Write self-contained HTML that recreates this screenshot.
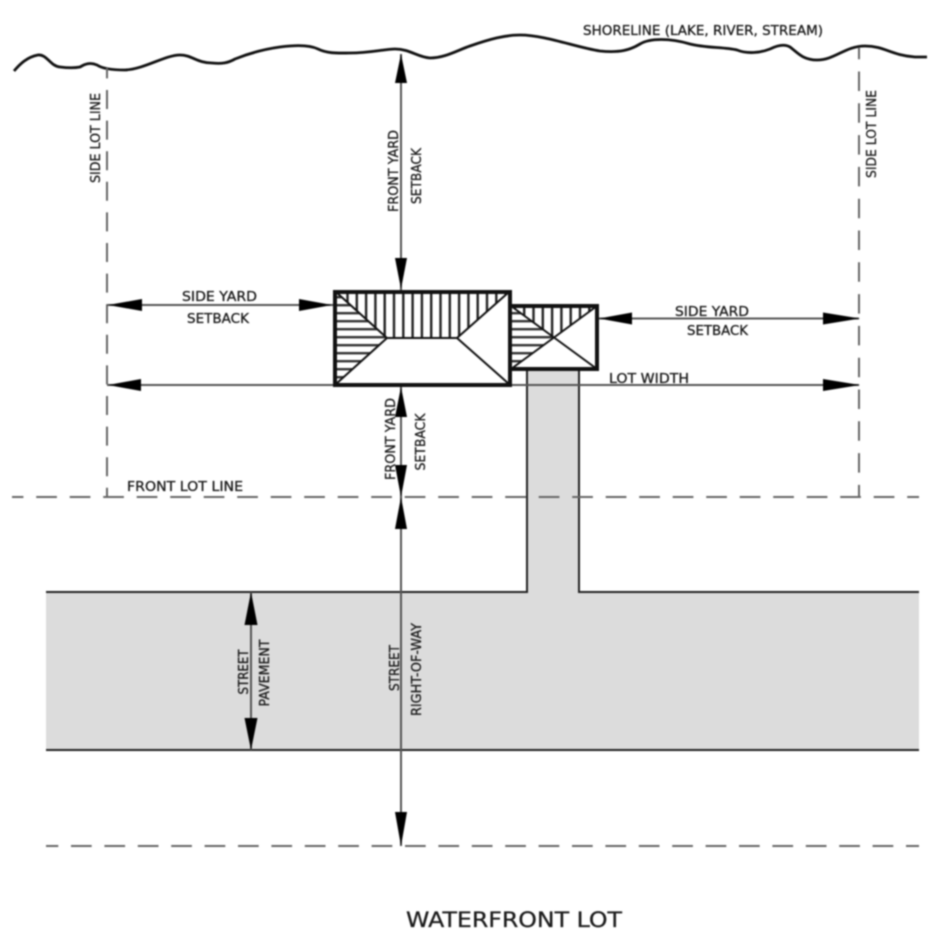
<!DOCTYPE html>
<html>
<head>
<meta charset="utf-8">
<style>
html,body{margin:0;padding:0;background:#fff;width:938px;height:936px;overflow:hidden}
svg{display:block;filter:blur(.7px)}
text{font-family:"DejaVu Sans",sans-serif;font-size:13px;fill:#1c1c1c;stroke:#1c1c1c;stroke-width:.3px;text-anchor:middle}
</style>
</head>
<body>
<svg width="938" height="936" viewBox="0 0 938 936" xmlns="http://www.w3.org/2000/svg">
<defs>
<pattern id="v" width="9.3" height="9" patternUnits="userSpaceOnUse" x="337"><rect x="0" width="2.4" height="9" fill="#222"/></pattern>
<pattern id="h" width="9" height="8" patternUnits="userSpaceOnUse" y="296"><rect y="0" width="9" height="2.4" fill="#333"/></pattern>
</defs>

<!-- paved areas -->
<rect x="46" y="592" width="873" height="158" fill="#dcdcdc"/>
<rect x="527" y="370" width="52" height="224" fill="#dcdcdc"/>
<g stroke="#222" stroke-width="2" fill="none">
<path d="M46 592H527V370M579 370V592H919"/>
<path d="M46 750H919"/>
</g>

<!-- shoreline -->
<path d="M14 71C20 64 27 57 38 55C47 54 50 66 60 67C68 68 75 68 80 67C85 64 90 62 97 65C103 69 115 70 125 70C145 69 165 55 180 55C192 55 197 63 212 63C222 64 228 63 235 59C250 53 265 49 280 47C295 45 310 45 318 49C328 54 340 53 350 53C370 53 385 49 395 49C410 49 417 57 430 58C445 58 458 50 470 46C490 39 505 35 520 35C545 35 575 47 600 51C620 53 630 50 640 44C650 38 670 38 690 44C705 48 725 47 737 50C747 54 760 53 770 49C778 45 785 44 790 47C798 53 803 60 817 60C835 60 845 46 865 46C885 46 890 55 915 57L927 57" fill="none" stroke="#111" stroke-width="2.8"/>

<!-- dashed lot lines -->
<g stroke="#666" stroke-width="2" fill="none">
<path d="M107 68V497" stroke-dasharray="19 11.6" stroke-dashoffset="8.6"/>
<path d="M859 48V497" stroke-dasharray="19.5 12.3" stroke-dashoffset="8.3"/>
<path d="M12 497H919" stroke-dasharray="20.7 12.8" stroke-dashoffset="9.3"/>
<path d="M46 846H919" stroke-dasharray="20.7 12.7" stroke-dashoffset="8.4"/>
</g>

<!-- dimension lines -->
<g stroke="#555" stroke-width="2" fill="none">
<path d="M401 54V290"/>
<path d="M401 386V497"/>
<path d="M401 497V846"/>
<path d="M251 592V750"/>
<path d="M107 305H334"/>
<path d="M597 318.500H859"/>
<path d="M107 385H859"/>
</g>

<!-- arrowheads -->
<g fill="#000">
<path d="M401 54L395 83H407Z"/>
<path d="M401 289L395 258H407Z"/>
<path d="M401 387L395 417H407Z"/>
<path d="M401 497L395 465H407Z"/>
<path d="M401 497L395 529H407Z"/>
<path d="M401 846L395 812H407Z"/>
<path d="M251 592L244.500 625H257.500Z"/>
<path d="M251 750L244.500 718H257.500Z"/>
<path d="M108 305L142 299V311Z"/>
<path d="M332 305L299 299V311Z"/>
<path d="M599 318.500L632 312.500V324.500Z"/>
<path d="M860 318.500L823 312.500V324.500Z"/>
<path d="M108 385L141 379V391Z"/>
<path d="M860 385L823 379V391Z"/>
</g>

<!-- main roof -->
<rect x="335" y="292" width="175" height="93" fill="#fff"/>
<path d="M337 293H508L457 338H387Z" fill="url(#v)"/>
<path d="M337 293L387 338L337 383Z" fill="url(#h)"/>
<!-- small roof -->
<rect x="511" y="306" width="86" height="63" fill="#fff"/>
<path d="M511 306H597L554 338Z" fill="url(#v)"/>
<path d="M511 306L554 338L511 369Z" fill="url(#h)"/>
<g stroke="#111" stroke-width="2" fill="none">
<path d="M336 292L387 338H457L509 292M387 338L336 384M457 338L509 384"/>
<path d="M511 306L597 369M597 306L511 369"/>
</g>
<rect x="335" y="292" width="175" height="93" fill="none" stroke="#111" stroke-width="4"/>
<path d="M511 306H597V369H511" fill="none" stroke="#111" stroke-width="4"/>

<!-- labels -->
<text x="703" y="35" textLength="240" lengthAdjust="spacingAndGlyphs">SHORELINE (LAKE, RIVER, STREAM)</text>
<text transform="translate(100 138) rotate(-90)" textLength="90" lengthAdjust="spacingAndGlyphs">SIDE LOT LINE</text>
<text transform="translate(876 134) rotate(-90)" textLength="88" lengthAdjust="spacingAndGlyphs">SIDE LOT LINE</text>
<text transform="translate(398 171) rotate(-90)" textLength="82" lengthAdjust="spacingAndGlyphs">FRONT YARD</text>
<text transform="translate(421 176) rotate(-90)" textLength="56" lengthAdjust="spacingAndGlyphs">SETBACK</text>
<text x="219.500" y="301" textLength="75" lengthAdjust="spacingAndGlyphs">SIDE YARD</text>
<text x="218" y="323" textLength="62" lengthAdjust="spacingAndGlyphs">SETBACK</text>
<text x="712" y="316" textLength="74" lengthAdjust="spacingAndGlyphs">SIDE YARD</text>
<text x="717.500" y="335" textLength="61" lengthAdjust="spacingAndGlyphs">SETBACK</text>
<text x="649" y="383" textLength="80" lengthAdjust="spacingAndGlyphs">LOT WIDTH</text>
<text transform="translate(395 439) rotate(-90)" textLength="82" lengthAdjust="spacingAndGlyphs">FRONT YARD</text>
<text transform="translate(425 442) rotate(-90)" textLength="57" lengthAdjust="spacingAndGlyphs">SETBACK</text>
<text x="185" y="491" textLength="116" lengthAdjust="spacingAndGlyphs">FRONT LOT LINE</text>
<text transform="translate(248 672) rotate(-90)" textLength="45" lengthAdjust="spacingAndGlyphs">STREET</text>
<text transform="translate(269 673) rotate(-90)" textLength="67" lengthAdjust="spacingAndGlyphs">PAVEMENT</text>
<text transform="translate(399 668) rotate(-90)" textLength="46" lengthAdjust="spacingAndGlyphs">STREET</text>
<text transform="translate(421 669.500) rotate(-90)" textLength="93" lengthAdjust="spacingAndGlyphs">RIGHT-OF-WAY</text>
<text x="514" y="927" style="font-size:21px" textLength="216" lengthAdjust="spacingAndGlyphs">WATERFRONT LOT</text>
</svg>
</body>
</html>
